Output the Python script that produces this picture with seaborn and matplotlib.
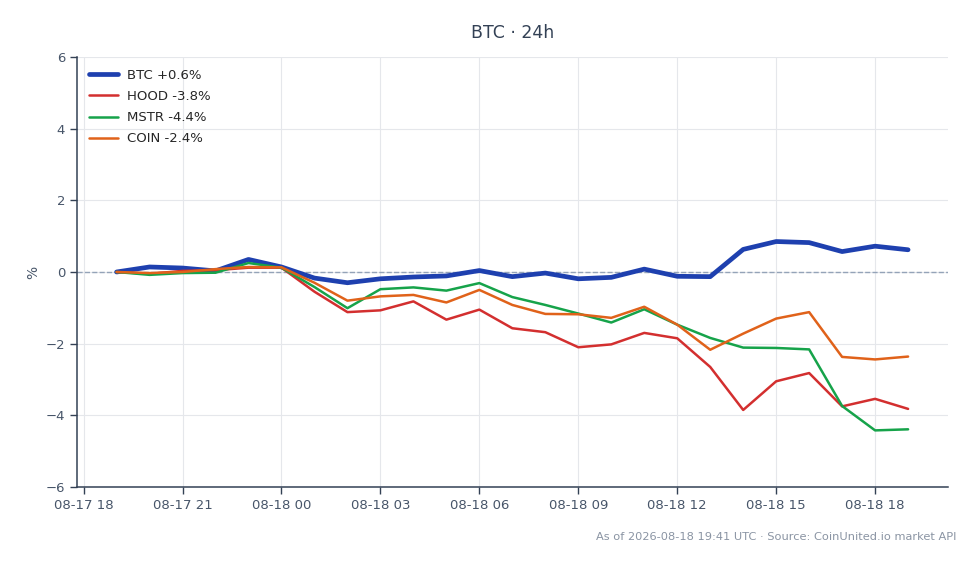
import pandas as pd
import matplotlib.pyplot as plt
import matplotlib.dates as mdates
import seaborn as sns

# DATOS (cambio % en 24h, cada hora)

horas = pd.date_range("2026-08-17 19:00", "2026-08-18 19:00", freq="h")

btc = [0.00, 0.14, 0.11, 0.03, 0.35, 0.14, -0.17, -0.30, -0.19, -0.14, -0.11, 0.04,
       -0.13, -0.03, -0.19, -0.15, 0.08, -0.12, -0.13, 0.63, 0.85, 0.82, 0.57, 0.72, 0.62]
hood = [0.00, -0.05, 0.03, 0.05, 0.12, 0.12, -0.55, -1.12, -1.07, -0.82, -1.33, -1.05,
        -1.57, -1.68, -2.10, -2.02, -1.70, -1.85, -2.65, -3.85, -3.05, -2.82, -3.75, -3.54, -3.82]
mstr = [0.00, -0.08, -0.03, -0.02, 0.25, 0.12, -0.42, -1.01, -0.48, -0.43, -0.52, -0.31,
        -0.70, -0.92, -1.16, -1.41, -1.04, -1.47, -1.84, -2.11, -2.12, -2.16, -3.74, -4.42, -4.39]
coin = [0.00, -0.03, 0.00, 0.08, 0.14, 0.13, -0.30, -0.80, -0.68, -0.64, -0.85, -0.50,
        -0.92, -1.17, -1.18, -1.28, -0.97, -1.47, -2.17, -1.72, -1.30, -1.12, -2.37, -2.44, -2.36]

etiquetas = ["BTC +0.6%", "HOOD -3.8%", "MSTR -4.4%", "COIN -2.4%"]
colores = ["#1e40af", "#d32f2f", "#16a34a", "#e0621a"]

df = pd.DataFrame({
    "hora": list(horas) * 4,
    "cambio": btc + hood + mstr + coin,
    "serie": [e for e in etiquetas for _ in horas],
})

# GRÁFICO

sns.set_style("white")
plt.rcParams["font.family"] = ["DejaVu Sans"]

fig = plt.figure(figsize=(9.8, 5.64), dpi=100)
ax = fig.add_axes([0.0786, 0.1365, 0.8884, 0.7625])

sns.lineplot(
    data=df,
    x="hora",
    y="cambio",
    hue="serie",
    size="serie",
    sizes={etiquetas[0]: 3.4, etiquetas[1]: 1.8, etiquetas[2]: 1.8, etiquetas[3]: 1.8},
    palette=dict(zip(etiquetas, colores)),
    ax=ax,
)

ax.axhline(0, linestyle="--", color="#94a3b8", linewidth=1, zorder=1.5)

ax.set_ylim(-6, 6)
ax.set_yticks([-6, -4, -2, 0, 2, 4, 6])
ax.xaxis.set_major_locator(mdates.HourLocator(byhour=range(0, 24, 3)))
ax.xaxis.set_major_formatter(mdates.DateFormatter("%m-%d %H"))

ax.grid(True, color="#e5e7eb", linewidth=0.8)
ax.set_axisbelow(True)
for s in ["top", "right"]:
    ax.spines[s].set_visible(False)
for s in ["left", "bottom"]:
    ax.spines[s].set_color("#334155")
    ax.spines[s].set_linewidth(1.1)
ax.tick_params(axis="both", colors="#334155", labelcolor="#475569", labelsize=9.5,
               length=5, width=1, left=True, bottom=True)

ax.set_xlabel("")
ax.set_ylabel("%", color="#475569", fontsize=10)
ax.set_title("BTC · 24h", color="#334155", fontsize=12.5, pad=14)

ax.legend(loc="upper left", frameon=False, fontsize=9.5, handlelength=2.2,
          handletextpad=0.7, labelspacing=0.62, borderaxespad=0.5)

fig.text(0.976, 0.048, "As of 2026-08-18 19:41 UTC · Source: CoinUnited.io market API",
         ha="right", va="center", fontsize=8.2, color="#8a94a3")

plt.savefig("out.png", dpi=100)
